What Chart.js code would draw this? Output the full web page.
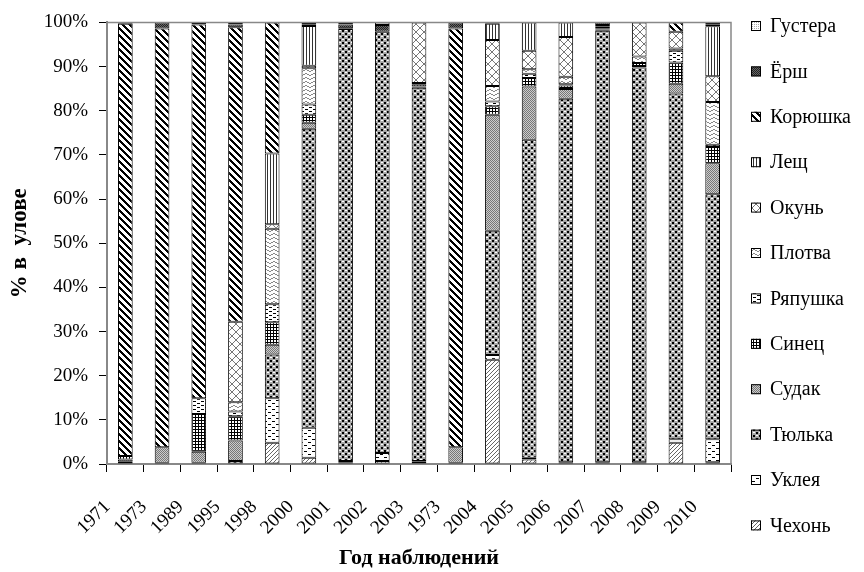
<!DOCTYPE html>
<html>
<head>
<meta charset="utf-8">
<script src="https://cdn.jsdelivr.net/npm/chart.js@4/dist/chart.umd.min.js"></script>
<style>
  html, body { margin: 0; padding: 0; background: #fff; }
  #wrap { width: 864px; height: 572px; }
</style>
</head>
<body>
<div id="wrap"><canvas id="barChart"></canvas></div>
<script>
// Годы наблюдений (подписи оси X)
const years = ['1971', '1973', '1989', '1995', '1998', '2000', '2001', '2002', '2003',
               '1973', '2004', '2005', '2006', '2007', '2008', '2009', '2010'];

// Доля вида в улове, % (снизу вверх по столбцу)
const chekhon   = [0,    0,    0,    0,    4.8,  1.4,  0.3,  0.7,  0.5,  0,    23.6, 1.0,  0.2,  0.2,  0.2,  4.8,  0.4];
const ukleya    = [0,    0,    0,    0,    10.1, 6.8,  0.4,  1.8,  0.2,  0,    1.1,  0.4,  0.2,  0.2,  0.2,  0.8,  5.2];
const tyulka    = [0.5,  0.3,  0.3,  0.7,  9.9,  67.7, 97.8, 95.4, 84.5, 0.3,  28.1, 72.0, 82.3, 97.7, 89.4, 78.3, 55.5];
const sudak     = [0.5,  3.5,  2.5,  4.6,  2.2,  1.4,  0.2,  0,    0.3,  3.5,  26.3, 12.1, 2.2,  0.3,  0.3,  2.2,  7.0];
const sinets    = [0.8,  0,    8.5,  5.5,  5.1,  1.8,  0,    0,    0.5,  0,    1.9,  1.9,  0.8,  0.3,  0.7,  4.8,  3.7];
const ryapushka = [0,    0,    3.6,  1.1,  4.1,  2.3,  0,    0,    0.3,  0,    1.1,  1.0,  0.3,  0.4,  0,    2.7,  0.5];
const plotva    = [0,    0,    0,    2.1,  17.1, 8.2,  0,    0,    0,    0,    3.5,  1.0,  1.7,  0,    1.5,  0.5,  9.7];
const okun      = [0,    0,    0,    18.2, 1.0,  0.6,  0,    0,    13.7, 0,    10.4, 4.2,  9.0,  0.3,  7.7,  3.8,  5.8];
const leshch    = [0,    0,    0,    0,    16.0, 9.0,  0,    0,    0,    0,    3.7,  6.4,  3.3,  0,    0,    0,    11.3];
const koryushka = [97.9, 94.8, 84.6, 66.7, 29.7, 0,    0,    0,    0,    94.8, 0,    0,    0,    0,    0,    2.1,  0];
const yorsh     = [0.3,  1.4,  0.5,  0.6,  0,    0.4,  0.8,  1.5,  0,    1.4,  0.3,  0,    0,    0.6,  0,    0,    0.5];
const gustera   = [0,    0,    0,    0.5,  0,    0.4,  0.5,  0.6,  0,    0,    0,    0,    0,    0,    0,    0,    0.4];

const yTicks = [0, 10, 20, 30, 40, 50, 60, 70, 80, 90, 100];

const FONT = "'Liberation Serif', 'Times New Roman', serif";

// Build a small tiled pattern
function makePattern(w, h, draw) {
    const c = document.createElement('canvas');
    c.width = w;
    c.height = h;
    const g = c.getContext('2d');
    g.fillStyle = '#fff';
    g.fillRect(0, 0, w, h);
    draw(g);
    return g.createPattern(c, 'repeat');
}

function px(g, color, pts) {
    g.fillStyle = color;
    pts.forEach(p => g.fillRect(p[0], p[1], p[2] || 1, p[3] || 1));
}

const patterns = {
    chekhon: makePattern(4, 4, g => px(g, '#666', [[3, 0], [2, 1], [1, 2], [0, 3]])),
    ukleya: makePattern(8, 6, g => px(g, '#000', [[0, 1, 3, 1], [4, 4, 3, 1]])),
    tyulka: makePattern(6, 6, g => {
        px(g, '#a8a8a8', [[0, 0, 6, 6]]);
        px(g, '#000', [[0, 0, 2, 2], [3, 3, 2, 2]]);
        px(g, '#fff', [[3, 0, 2, 1], [0, 3, 2, 1]]);
    }),
    sudak: makePattern(2, 2, g => {
        px(g, '#777', [[0, 0], [1, 1]]);
        px(g, '#ccc', [[1, 0], [0, 1]]);
    }),
    sinets: makePattern(3, 3, g => px(g, '#000', [[0, 0, 3, 1], [0, 0, 1, 3]])),
    ryapushka: makePattern(8, 4, g => px(g, '#000', [[1, 1, 3, 1], [5, 3, 3, 1]])),
    plotva: makePattern(8, 4, g => px(g, '#888', [[0, 2], [1, 1], [2, 1], [3, 2], [4, 2], [5, 3], [6, 3], [7, 2]])),
    okun: makePattern(8, 8, g => {
        const pts = [];
        for (let i = 0; i < 8; i++) { pts.push([i, i]); pts.push([7 - i, i]); }
        px(g, '#777', pts);
    }),
    leshch: makePattern(3, 1, g => px(g, '#333', [[0, 0]])),
    koryushka: makePattern(7, 7, g => {
        const pts = [];
        for (let y = 0; y < 7; y++) {
            for (let k = -1; k <= 1; k++) pts.push([(y + k + 7) % 7, y]);
        }
        px(g, '#000', pts);
    }),
    yorsh: makePattern(2, 2, g => {
        px(g, '#222', [[0, 0, 2, 2]]);
        px(g, '#666', [[1, 0], [0, 1]]);
    }),
    gustera: makePattern(2, 2, g => px(g, '#aaa', [[0, 0]]))
};

// Normalise each column to 100 %
const series = [
    ['Чехонь', chekhon, patterns.chekhon],
    ['Уклея', ukleya, patterns.ukleya],
    ['Тюлька', tyulka, patterns.tyulka],
    ['Судак', sudak, patterns.sudak],
    ['Синец', sinets, patterns.sinets],
    ['Ряпушка', ryapushka, patterns.ryapushka],
    ['Плотва', plotva, patterns.plotva],
    ['Окунь', okun, patterns.okun],
    ['Лещ', leshch, patterns.leshch],
    ['Корюшка', koryushka, patterns.koryushka],
    ['Ёрш', yorsh, patterns.yorsh],
    ['Густера', gustera, patterns.gustera]
];

const totals = years.map((y, i) => series.reduce((s, d) => s + d[1][i], 0));

const datasets = series.map(d => ({
    label: d[0],
    data: d[1].map((v, i) => v / totals[i] * 100),
    backgroundColor: d[2],
    borderColor: '#000',
    borderWidth: 1,
    borderSkipped: false,
    barPercentage: 0.4,
    categoryPercentage: 1
}));

// Legend on the right, drawn by hand (top item = top of stack)
const sideLegend = {
    id: 'sideLegend',
    afterDraw(chart) {
        const ctx = chart.ctx;
        ctx.save();
        ctx.font = '20px ' + FONT;
        ctx.textBaseline = 'middle';
        const items = chart.data.datasets.slice().reverse();
        items.forEach((ds, i) => {
            const y = 26 + i * 45.4;
            ctx.fillStyle = ds.backgroundColor;
            ctx.fillRect(751, y - 5, 10, 10);
            ctx.strokeStyle = '#000';
            ctx.lineWidth = 1;
            ctx.strokeRect(751.5, y - 4.5, 9, 9);
            ctx.fillStyle = '#000';
            ctx.fillText(ds.label, 770, y + 1);
        });
        ctx.restore();
    }
};

// Top and right frame of the plot area
const frame = {
    id: 'frame',
    afterDatasetsDraw(chart) {
        const a = chart.chartArea;
        const ctx = chart.ctx;
        ctx.save();
        ctx.strokeStyle = '#888';
        ctx.lineWidth = 1.5;
        ctx.beginPath();
        ctx.moveTo(a.left, a.top);
        ctx.lineTo(a.right, a.top);
        ctx.lineTo(a.right, a.bottom);
        ctx.stroke();
        ctx.restore();
    }
};

document.addEventListener('DOMContentLoaded', function() {
    const ctx = document.getElementById('barChart').getContext('2d');
    new Chart(ctx, {
        type: 'bar',
        data: {
            labels: years,
            datasets: datasets
        },
        options: {
            responsive: true,
            maintainAspectRatio: false,
            animation: false,
            layout: {
                padding: { top: 19, right: 133, left: 0, bottom: 0 }
            },
            plugins: {
                legend: { display: false },
                tooltip: { enabled: false }
            },
            scales: {
                x: {
                    stacked: true,
                    afterFit: s => { s.height = 108; },
                    grid: {
                        drawOnChartArea: false,
                        color: '#000',
                        tickLength: 8
                    },
                    border: { color: '#888', width: 2 },
                    ticks: {
                        autoSkip: false,
                        minRotation: 45,
                        maxRotation: 45,
                        labelOffset: -18,
                        padding: 24,
                        color: '#000',
                        font: { family: FONT, size: 19 }
                    },
                    title: {
                        display: true,
                        text: 'Год наблюдений',
                        color: '#000',
                        padding: { top: 0, bottom: 0 },
                        font: { family: FONT, size: 22, weight: 'bold' }
                    }
                },
                y: {
                    stacked: true,
                    min: 0,
                    max: 100,
                    afterFit: s => { s.width = 107; },
                    afterBuildTicks: s => { s.ticks = yTicks.map(v => ({ value: v })); },
                    grid: {
                        drawOnChartArea: false,
                        color: '#000',
                        tickLength: 8
                    },
                    border: { color: '#888', width: 2 },
                    ticks: {
                        padding: 11,
                        color: '#000',
                        font: { family: FONT, size: 19 },
                        callback: v => v + '%'
                    },
                    title: {
                        display: true,
                        text: '% в  улове',
                        color: '#000',
                        padding: { top: 6, bottom: 0 },
                        font: { family: FONT, size: 23, weight: 'bold' }
                    }
                }
            }
        },
        plugins: [sideLegend, frame]
    });
});
</script>
</body>
</html>
